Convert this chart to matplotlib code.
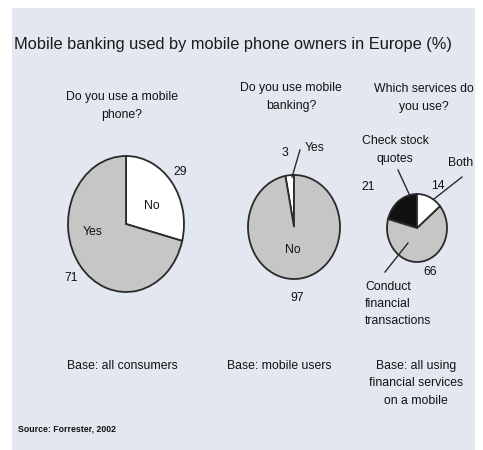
import matplotlib
matplotlib.use("Agg")
import matplotlib.pyplot as plt
from matplotlib.patches import Rectangle

# ---- data -------------------------------------------------------------
title = "Mobile banking used by mobile phone owners in Europe (%)"

phone_labels = ["No", "Yes"]
phone_values = [29, 71]

banking_labels = ["Yes", "No"]
banking_values = [3, 97]

service_labels = ["Check stock\nquotes", "Conduct\nfinancial\ntransactions", "Both"]
service_values = [21, 66, 14]

questions = ["Do you use a mobile\nphone?",
             "Do you use mobile\nbanking?",
             "Which services do\nyou use?"]
bases = ["Base: all consumers",
         "Base: mobile users",
         "Base: all using\nfinancial services\non a mobile"]
source = "Source: Forrester, 2002"

# ---- figure -----------------------------------------------------------
W, H = 483, 450
fig = plt.figure(figsize=(W / 100, H / 100), dpi=100)
fig.patch.set_facecolor("white")

PANEL = "#e3e8f0"
GREY = "#c6c6c6"
EDGE = "#2a2a2a"
NARROW = ["Liberation Sans Narrow", "Liberation Sans", "DejaVu Sans"]

bg = fig.add_axes([0, 0, 1, 1], zorder=0)
bg.set_xlim(0, W)
bg.set_ylim(H, 0)
bg.axis("off")
bg.add_patch(Rectangle((12, 8), 463, 445, facecolor=PANEL, edgecolor="none"))


def pie_axes(cx, cy, rx, ry):
    """Axes whose box is the bounding box of an ellipse centred at (cx, cy) px."""
    ax = fig.add_axes([(cx - rx) / W, (H - cy - ry) / H, 2 * rx / W, 2 * ry / H],
                      zorder=1)
    return ax


def finish(ax, wedges):
    ax.set_aspect("auto")
    ax.set_xlim(-1, 1)
    ax.set_ylim(-1, 1)
    ax.axis("off")
    for w in wedges:
        w.set_clip_on(False)


wp = dict(edgecolor=EDGE, linewidth=1.3)

# pie 1: mobile phone ownership (No clockwise from 12 o'clock)
ax1 = pie_axes(126, 224, 58, 68)
w1, _ = ax1.pie(phone_values, colors=["white", GREY], startangle=90,
                counterclock=False, wedgeprops=wp)
finish(ax1, w1)

# pie 2: mobile banking usage (Yes counter-clockwise from 12 o'clock)
ax2 = pie_axes(294, 227, 46, 52)
w2, _ = ax2.pie(banking_values, colors=["white", GREY], startangle=90,
                counterclock=True, wedgeprops=wp)
finish(ax2, w2)

# pie 3: services used
ax3 = pie_axes(417, 228, 30, 34)
w3, _ = ax3.pie(service_values, colors=["#111111", GREY, "white"], startangle=90,
                counterclock=True, wedgeprops=wp)
finish(ax3, w3)

# ---- text overlay -----------------------------------------------------
ov = fig.add_axes([0, 0, 1, 1], zorder=2)
ov.set_xlim(0, W)
ov.set_ylim(H, 0)
ov.axis("off")
ov.patch.set_alpha(0)

ov.text(14, 45, title, fontsize=11.8, family=["Liberation Sans", "DejaVu Sans"],
        color="#1a1a1a", va="center", ha="left")

small = dict(fontsize=8.8, family=NARROW, color="#111111", linespacing=1.6)

for x, y, q in zip([122, 291, 424], [106, 97, 98], questions):
    ov.text(x, y, q, ha="center", va="center", **small)

for x, b in zip([122, 279, 416], bases):
    ov.text(x, 360, b, ha="center", va="top", **small)

ov.text(18, 429, source, fontsize=6.3, family=NARROW, fontweight="bold",
        color="#111111", va="center", ha="left")

# pie 1 labels
ov.text(180, 172, f"{phone_values[0]}", ha="center", va="center", **small)
ov.text(152, 206, phone_labels[0], ha="center", va="center", **small)
ov.text(93, 232, phone_labels[1], ha="center", va="center", **small)
ov.text(71, 278, f"{phone_values[1]}", ha="center", va="center", **small)

# pie 2 labels
ov.text(285, 153, f"{banking_values[0]}", ha="center", va="center", **small)
ov.text(315, 148, banking_labels[0], ha="center", va="center", **small)
ov.plot([292, 300], [177, 150], color=EDGE, lw=1.0)
ov.text(293, 250, banking_labels[1], ha="center", va="center", **small)
ov.text(297, 298, f"{banking_values[1]}", ha="center", va="center", **small)

# pie 3 labels
ov.text(395, 150, service_labels[0], ha="center", va="center", **small)
ov.plot([398, 410], [170, 196], color=EDGE, lw=1.0)
ov.text(368, 187, f"{service_values[0]}", ha="center", va="center", **small)
ov.text(461, 163, service_labels[2], ha="center", va="center", **small)
ov.text(438, 186, f"{service_values[2]}", ha="center", va="center", **small)
ov.plot([434, 462], [199, 177], color=EDGE, lw=1.0)
ov.text(430, 272, f"{service_values[1]}", ha="center", va="center", **small)
ov.plot([408, 385], [243, 272], color=EDGE, lw=1.0)
ov.text(365, 304, service_labels[1], ha="left", va="center", **small)

fig.savefig("out.png", dpi=100, facecolor=fig.get_facecolor())
